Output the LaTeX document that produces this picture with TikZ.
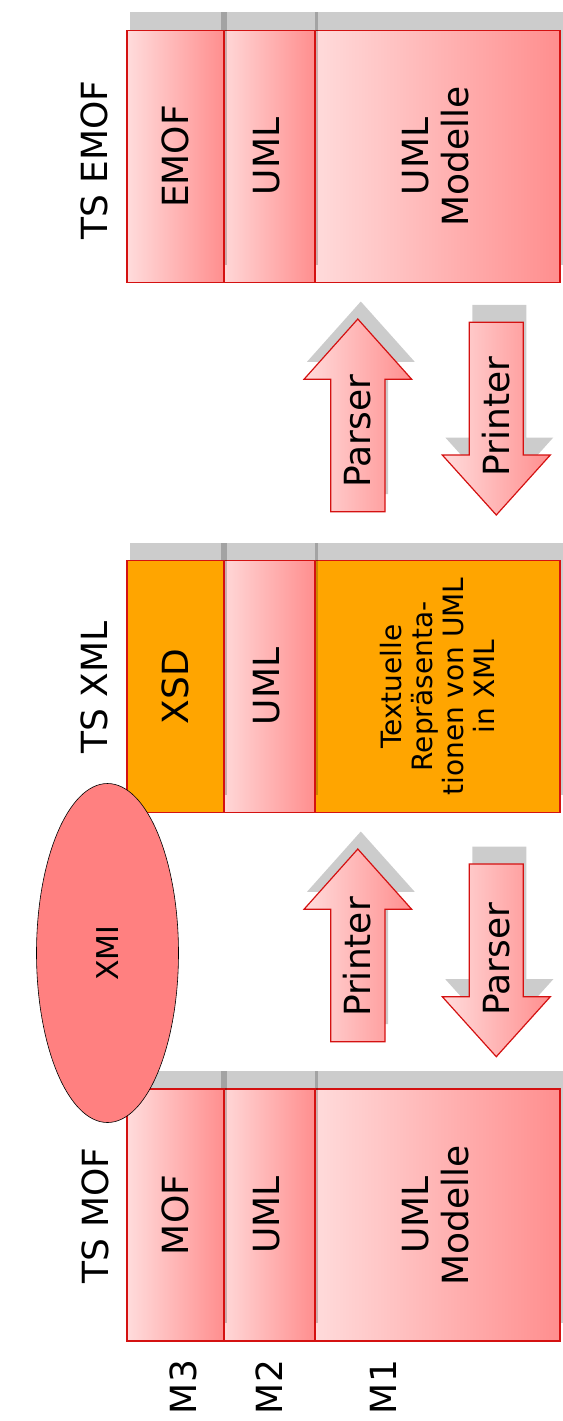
\documentclass[tikz,border=0pt]{standalone}
\usepackage{fontspec}
\setmainfont{DejaVu Sans}
\usetikzlibrary{shapes.geometric,shadows}
\definecolor{pinkL}{HTML}{FFDCDC}
\definecolor{pinkR}{HTML}{FF8E8E}
\definecolor{boxred}{HTML}{D41111}
\definecolor{xmifill}{HTML}{FF8080}
\definecolor{orangefill}{HTML}{FFA500}
\begin{document}
\begin{tikzpicture}[x=1pt,y=-1pt,
  boxsh/.style={drop shadow={shadow xshift=3pt,shadow yshift=18pt,fill=black,opacity=0.2}},
  arrsh/.style={drop shadow={shadow xshift=3pt,shadow yshift=17.5pt,fill=black,opacity=0.2}},
  pinkbox/.style={draw=boxred,line width=1.2pt,left color=pinkL,right color=pinkR,minimum height=252pt,inner sep=0pt,boxsh},
  orangebox/.style={draw=boxred,line width=1.2pt,fill=orangefill,minimum height=252pt,inner sep=0pt,boxsh},
  big/.style={rotate=90,font=\fontsize{36}{40}\selectfont,align=center,inner sep=0pt},
  small/.style={rotate=90,font=\fontsize{28}{31}\selectfont,align=center,inner sep=0pt},
  arrowbody/.style={draw=boxred,line width=1.2pt,left color=pinkL,right color=pinkR,line join=miter,arrsh}
]
\useasboundingbox (0,0) rectangle (562,1421);

% ---------- column TS EMOF ----------
\node[pinkbox,minimum width=248pt] (e1) at (436,156.5) {};
\node[pinkbox,minimum width=97pt] (e2) at (266.5,156.5) {};
\node[pinkbox,minimum width=97pt] (e3) at (175.5,156.5) {};
\node[big] (e3t) at (e3) {EMOF};
\node[big] (e2t) at (e2) {UML};
\node[big] (e1t) at (e1) {UML\\Modelle};
\node[big] (ets) at (94,160) {TS EMOF};

% ---------- column TS XML ----------
\node[orangebox,minimum width=248pt] (x1) at (436,686.5) {};
\node[pinkbox,minimum width=97pt] (x2) at (266.5,686.5) {};
\node[orangebox,minimum width=97pt] (x3) at (175.5,686.5) {};
\node[big] (x3t) at (x3) {XSD};
\node[big] (x2t) at (x2) {UML};
\node[small] (x1t) at (437,686.5) {Textuelle\\Repräsenta-\\tionen von UML\\in XML};
\node[big] (xts) at (94,687.5) {TS XML};

% ---------- column TS MOF ----------
\node[pinkbox,minimum width=248pt] (m1) at (436,1215) {};
\node[pinkbox,minimum width=97pt] (m2) at (266.5,1215) {};
\node[pinkbox,minimum width=97pt] (m3) at (175.5,1215) {};
\node[big] (m3t) at (m3) {MOF};
\node[big] (m2t) at (m2) {UML};
\node[big] (m1t) at (m1) {UML\\Modelle};
\node[big] (mts) at (95,1215.5) {TS MOF};

% ---------- arrows between EMOF and XML ----------
\path[arrowbody] (357.8,319) -- (411.7,379.3) -- (385,379.3) -- (385,511.7) -- (330.7,511.7) -- (330.7,379.3) -- (304,379.3) -- cycle;
\path[arrowbody] (469.3,322.3) -- (523.3,322.3) -- (523.3,455) -- (550.3,455) -- (496.3,515) -- (442.3,455) -- (469.3,455) -- cycle;
\node[big] (a1t) at (357.5,431) {Parser};
\node[big] (a2t) at (496,416.7) {Printer};

% ---------- arrows between XML and MOF ----------
\path[arrowbody] (357.8,849) -- (411.7,909.3) -- (385,909.3) -- (385,1041.7) -- (330.7,1041.7) -- (330.7,909.3) -- (304,909.3) -- cycle;
\path[arrowbody] (469.3,864) -- (523.3,864) -- (523.3,996.7) -- (550.3,996.7) -- (496.3,1056.7) -- (442.3,996.7) -- (469.3,996.7) -- cycle;
\node[big] (a3t) at (357,957) {Printer};
\node[big] (a4t) at (497,959) {Parser};

% ---------- XMI ----------
\node[ellipse,draw=black,line width=0.6pt,fill=xmifill,minimum width=142pt,minimum height=339pt,inner sep=0pt] (xmi) at (107.5,953) {};
\node[rotate=90,font=\fontsize{30}{34}\selectfont,inner sep=0pt] (xmit) at (xmi) {XMI};

% ---------- level labels ----------
\node[big] (lm3) at (183,1387) {M3};
\node[big] (lm2) at (269,1387) {M2};
\node[big] (lm1) at (383,1387) {M1};
\end{tikzpicture}
\end{document}
